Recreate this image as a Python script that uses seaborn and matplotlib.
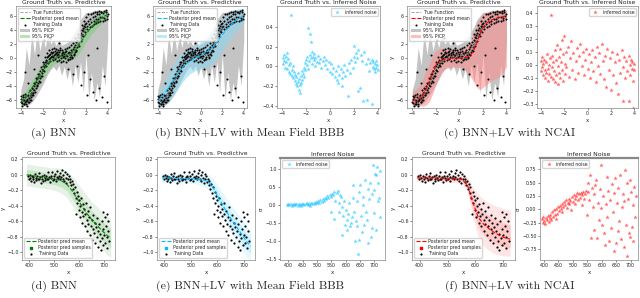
import matplotlib
matplotlib.use("Agg")
import matplotlib.pyplot as plt
import seaborn as sns
import numpy as np

sns.set_style("ticks")
plt.rcParams.update({
    "font.family": ["DejaVu Sans"],
    "xtick.labelsize": 3.4, "ytick.labelsize": 3.4,
    "xtick.major.size": 1.5, "ytick.major.size": 1.5,
    "xtick.major.width": 0.4, "ytick.major.width": 0.4,
    "xtick.major.pad": 1.0, "ytick.major.pad": 1.0,
    "axes.linewidth": 0.5, "axes.edgecolor": "#888888",
    "axes.titlesize": 4.4, "axes.titlepad": 1.5,
    "axes.labelsize": 4.0, "axes.labelpad": 1.0,
})

# ---------------- top row data (toy problem, x in [-4, 4]) ----------------
grid_x = [-4.0, -3.75, -3.5, -3.25, -3.0, -2.75, -2.5, -2.25, -2.0, -1.75, -1.5, -1.25, -1.0,
          -0.75, -0.5, -0.25, 0.0, 0.25, 0.5, 0.75, 1.0, 1.25, 1.5, 1.75, 2.0, 2.25, 2.5,
          2.75, 3.0, 3.25, 3.5, 3.75, 4.0]
true_y = [-6.0, -6.0, -5.8, -5.5, -5.0, -4.3, -3.4, -2.4, -1.5, -0.9, -0.5, -0.2, 0.0,
          0.1, 0.2, 0.3, 0.35, 0.4, 0.5, 0.7, 1.0, 1.8, 2.8, 3.7, 4.4, 4.9, 5.2,
          5.5, 5.7, 5.8, 5.9, 6.0, 6.0]
gray_hi = [-4.5, -3.0, 1.5, -1.0, 3.5, 0.5, 4.0, 1.0, 3.0, 1.5, 3.5, 2.0, 2.5,
           1.8, 2.8, 1.8, 2.0, 2.2, 2.5, 3.2, 3.8, 4.5, 5.5, 6.0, 6.5, 6.5, 6.6,
           6.8, 6.8, 6.8, 6.8, 6.8, 6.8]
gray_lo = [-6.8, -6.8, -6.8, -6.6, -6.3, -5.8, -5.2, -4.5, -3.8, -3.0, -2.2, -1.6, -1.2,
           -1.8, -1.0, -2.5, -1.2, -3.0, -1.5, -4.0, -1.0, -3.5, -0.5, -5.0, 0.5, -5.8, -2.0,
           -6.0, -3.5, -5.5, -1.0, -4.0, 2.5]

bnn_mean = [-6.3, -5.9, -5.4, -4.9, -4.3, -3.7, -3.1, -2.5, -1.9, -1.3, -0.8, -0.4, -0.1,
            0.1, 0.2, 0.3, 0.4, 0.5, 0.6, 0.8, 1.1, 1.6, 2.2, 2.8, 3.4, 3.9, 4.4,
            4.8, 5.2, 5.5, 5.8, 6.0, 6.2]
bnn_half = [0.7, 0.8, 0.9, 1.0, 1.1, 1.1, 1.2, 1.2, 1.2, 1.1, 1.0, 0.9, 0.8,
            0.8, 0.8, 0.8, 0.8, 0.9, 0.9, 1.0, 1.1, 1.2, 1.2, 1.2, 1.1, 1.1, 1.0,
            1.0, 0.9, 0.9, 0.8, 0.8, 0.7]
mf_mean = [-6.1, -5.8, -5.3, -4.8, -4.2, -3.6, -3.0, -2.4, -1.9, -1.4, -1.0, -0.7, -0.4,
           -0.2, 0.0, 0.2, 0.4, 0.6, 0.8, 1.1, 1.4, 1.8, 2.3, 2.8, 3.3, 3.8, 4.2,
           4.6, 5.0, 5.3, 5.6, 5.8, 6.0]
mf_half = [1.0, 1.2, 1.5, 1.8, 2.0, 2.2, 2.3, 2.3, 2.2, 2.1, 2.0, 1.9, 1.8,
           1.8, 1.8, 1.8, 1.9, 2.0, 2.1, 2.2, 2.3, 2.4, 2.4, 2.3, 2.2, 2.1, 2.0,
           1.9, 1.8, 1.6, 1.4, 1.2, 1.0]
ncai_mean = [-6.1, -6.0, -5.8, -5.5, -5.0, -4.2, -3.0, -1.8, -1.0, -0.5, -0.3, -0.2, -0.1,
             -0.1, 0.0, 0.0, 0.0, 0.0, 0.1, 0.2, 0.5, 1.2, 2.2, 3.4, 4.3, 4.9, 5.2,
             5.4, 5.6, 5.7, 5.8, 5.9, 6.0]
ncai_hi = [-4.8, -4.5, -4.2, -3.5, -2.5, -1.5, -0.5, 0.5, 1.0, 1.3, 1.4, 1.4, 1.3,
           1.3, 1.2, 1.2, 1.3, 1.4, 1.6, 2.0, 2.8, 3.8, 4.8, 5.8, 6.3, 6.5, 6.6,
           6.7, 6.7, 6.8, 6.8, 6.8, 6.8]
ncai_lo = [-6.8, -6.8, -6.8, -6.8, -6.8, -6.6, -6.0, -5.0, -3.8, -2.8, -2.0, -1.6, -1.4,
           -1.3, -1.3, -1.3, -1.3, -1.5, -1.8, -2.2, -2.8, -3.5, -4.2, -4.5, -4.2, -3.8, -3.5,
           -3.2, -3.0, -2.8, -2.5, -2.0, -1.2]

top_train = [
    (-4.0, -6.2), (-3.95, -5.8), (-3.9, -6.4), (-3.85, -5.6), (-3.8, -6.0), (-3.75, -6.6),
    (-3.7, -5.9), (-3.65, -6.3), (-3.6, -5.5), (-3.55, -6.1), (-3.5, -6.5), (-3.45, -5.8),
    (-3.4, -6.0), (-3.35, -5.4), (-3.3, -6.2), (-3.25, -5.7), (-3.2, -5.2), (-3.15, -5.9),
    (-3.1, -5.0), (-3.05, -5.5), (-3.0, -4.8), (-2.95, -5.2), (-2.9, -4.4), (-2.85, -4.9),
    (-2.8, -4.0), (-2.75, -4.6), (-2.7, -3.7), (-2.65, -4.2), (-2.6, -3.4), (-2.55, -3.9),
    (-2.5, -3.0), (-2.45, -3.6), (-2.4, -2.7), (-2.35, -3.2), (-2.3, -2.3), (-2.25, -2.9),
    (-2.2, -1.9), (-2.15, -2.5), (-2.1, -1.5), (-2.05, -2.1), (-2.0, -1.2), (-1.95, -1.7),
    (-1.9, -0.9), (-1.85, -1.3), (-1.8, -0.5), (-1.75, -1.0), (-1.7, -0.3), (-1.65, -0.7),
    (-1.6, 0.1), (-1.55, -0.4), (-1.5, 0.3), (-1.45, -0.2), (-1.4, 0.5), (-1.35, 0.0),
    (-1.3, 0.6), (-1.25, 0.2), (-1.2, 0.8), (-1.15, 0.3), (-1.1, 0.7), (-1.05, 0.1),
    (-1.0, 0.9), (-0.95, 0.4), (-0.9, 0.6), (-0.85, 1.0), (-0.8, 0.2), (-0.75, 0.7),
    (-0.7, 0.5), (-0.65, 0.9), (-0.6, 0.1), (-0.55, 0.6), (-0.5, 0.8), (-0.45, 0.3),
    (-0.4, 1.1), (-0.35, 0.5), (-0.3, 0.0), (-0.25, 0.7), (-0.2, 0.4), (-0.15, 0.9),
    (-0.1, 0.2), (-0.05, 0.6), (0.0, 0.3), (0.05, 0.8), (0.1, 0.0), (0.15, 0.5),
    (0.2, 1.0), (0.25, 0.3), (0.3, 0.7), (0.35, -0.1), (0.4, 0.6), (0.45, 0.9),
    (0.5, 0.2), (0.55, 0.7), (0.6, 1.1), (0.65, 0.4), (0.7, 0.9), (0.75, 0.1),
    (0.8, 1.3), (0.85, 0.6), (0.9, 1.6), (0.95, 0.9), (1.0, 1.9), (1.05, 1.2),
    (1.1, 2.3), (1.15, 1.6), (1.2, 2.6), (1.25, 2.0), (1.3, 3.0), (1.35, 2.4),
    (1.4, 3.3), (1.45, 2.8), (1.5, 3.6), (1.55, 3.1), (1.6, 4.0), (1.65, 3.4),
    (1.7, 4.3), (1.75, 3.8), (1.8, 4.6), (1.85, 4.1), (1.9, 4.9), (1.95, 4.4),
    (2.0, 5.0), (2.1, 4.6), (2.2, 5.3), (2.3, 4.8), (2.4, 5.6), (2.5, 5.1),
    (2.6, 5.8), (2.7, 5.3), (2.8, 6.0), (2.9, 5.5), (3.0, 6.2), (3.1, 5.6),
    (3.2, 6.3), (3.3, 5.8), (3.4, 6.5), (3.5, 5.9), (3.6, 6.4), (3.7, 5.7),
    (3.8, 6.6), (3.9, 6.0), (4.0, 6.3),
    (-3.98, -5.4), (-3.88, -6.8), (-3.78, -5.2), (-3.68, -6.6), (-3.58, -5.1), (-3.48, -6.8),
    (-3.38, -5.2), (-3.28, -6.3), (-3.18, -4.6), (-3.08, -5.9), (-2.98, -4.2), (-2.88, -5.3),
    (-2.78, -3.5), (-2.68, -4.8), (-2.58, -2.9), (-2.48, -4.0), (-2.38, -2.2), (-2.28, -3.4),
    (-2.18, -1.3), (-2.08, -2.6), (-1.98, -0.6), (-1.88, -1.8), (-1.78, 0.2), (-1.68, -1.2),
    (-1.58, 0.7), (-1.48, -0.7), (-1.38, 1.1), (-1.28, -0.4), (-1.18, 1.3), (-1.08, -0.3),
    (-0.98, 1.4), (-0.88, -0.2), (-0.78, 1.3), (-0.68, -0.4), (-0.58, 1.2), (-0.48, -0.3),
    (-0.38, 1.4), (-0.28, -0.5), (-0.18, 1.2), (-0.08, -0.4), (0.02, 1.3), (0.12, -0.5),
    (0.22, 1.5), (0.32, -0.3), (0.42, 1.6), (0.52, -0.2), (0.62, 1.8), (0.72, 0.0),
    (0.82, 2.2), (0.92, 0.4), (1.02, 2.8), (1.12, 1.0), (1.22, 3.4), (1.32, 1.7),
    (1.42, 4.0), (1.52, 2.4), (1.62, 4.7), (1.72, 3.1), (1.82, 5.3), (1.92, 3.7),
    (2.02, 5.9), (2.12, 4.1), (2.22, 6.2), (2.32, 4.4), (2.42, 6.3), (2.52, 4.6),
    (2.62, 6.4), (2.72, 4.8), (2.82, 6.5), (2.92, 5.0), (3.02, 6.6), (3.12, 5.1),
    (3.22, 6.7), (3.32, 5.2), (3.42, 6.6), (3.52, 5.3), (3.62, 6.7), (3.72, 5.4),
    (3.82, 6.8), (3.92, 5.5),
    (-3.3, -3.5), (-2.8, -1.5), (-2.4, 0.5), (-1.9, 2.5), (-1.3, 2.8), (-0.5, 2.2),
    (0.3, -1.5), (0.8, -2.2), (1.2, -1.2), (1.5, -3.8), (1.8, -2.0), (2.1, -5.2),
    (2.4, -3.0), (2.6, -4.8), (2.9, -6.0), (3.2, -4.2), (3.5, -5.5), (3.7, -2.5),
    (3.9, -6.3), (3.0, 1.5), (2.2, 0.5), (-3.6, -2.0),
]

noise_mf_top = [
    (-3.95, 0.08), (-3.9, 0.02), (-3.85, 0.12), (-3.8, 0.05), (-3.75, -0.02), (-3.7, 0.10),
    (-3.65, 0.04), (-3.6, 0.14), (-3.55, -0.03), (-3.5, 0.07), (-3.45, 0.01), (-3.4, -0.06),
    (-3.35, 0.03), (-3.3, -0.08), (-3.25, 0.52), (-3.2, -0.04), (-3.15, -0.10), (-3.1, 0.00),
    (-3.05, -0.12), (-3.0, -0.06), (-2.95, -0.15), (-2.9, -0.09), (-2.85, -0.18), (-2.8, -0.11),
    (-2.75, -0.20), (-2.7, -0.07), (-2.65, -0.16), (-2.6, -0.24), (-2.55, -0.13), (-2.5, -0.19),
    (-2.45, -0.10), (-2.4, -0.17), (-2.35, -0.05), (-2.3, -0.14), (-2.25, -0.08), (-2.2, -0.02),
    (-2.15, -0.11), (-2.1, 0.03), (-2.05, -0.04), (-2.0, 0.06), (-1.95, 0.01), (-1.9, 0.09),
    (-1.85, -0.03), (-1.8, 0.39), (-1.75, 0.05), (-1.7, 0.12), (-1.65, 0.33), (-1.6, 0.25),
    (-1.55, 0.08), (-1.5, 0.15), (-1.45, 0.02), (-1.4, 0.10), (-1.35, 0.06), (-1.3, 0.13),
    (-1.25, 0.00), (-1.2, 0.08), (-1.1, 0.04), (-1.0, 0.11), (-0.9, 0.03), (-0.8, 0.07),
    (-0.7, -0.02), (-0.6, 0.05), (-0.5, 0.09), (-0.4, 0.01), (-0.3, 0.06), (-0.2, -0.03),
    (-0.1, 0.04), (0.0, -0.06), (0.1, 0.02), (0.2, -0.08), (0.3, -0.02), (0.4, -0.11),
    (0.5, -0.05), (0.6, -0.14), (0.7, 0.00), (0.8, -0.09), (0.9, -0.03), (1.0, -0.12),
    (1.1, -0.06), (1.2, 0.01), (1.3, -0.10), (1.4, -0.04), (1.5, -0.30), (1.6, 0.03),
    (1.7, -0.07), (1.8, 0.06), (1.9, -0.02), (2.0, 0.10), (2.05, 0.21), (2.1, 0.04),
    (2.2, 0.14), (2.3, 0.08), (2.4, 0.17), (2.5, -0.22), (2.6, 0.12), (2.7, 0.05),
    (2.8, -0.35), (2.9, 0.15), (3.0, 0.02), (3.1, -0.34), (3.2, 0.07), (3.3, -0.05),
    (3.4, 0.03), (3.5, -0.38), (3.55, 0.06), (3.6, -0.01), (3.65, 0.04), (3.7, -0.03),
    (3.75, 0.02), (3.8, -0.06), (3.85, 0.05), (3.9, -0.02), (3.95, 0.01), (4.0, -0.04),
    (1.05, -0.20), (0.65, -0.17), (2.35, -0.25), (-2.5, -0.27),
]

noise_ncai_top = [
    (-4.0, 0.03), (-3.95, -0.05), (-3.9, 0.06), (-3.85, -0.02), (-3.8, 0.01), (-3.75, -0.08),
    (-3.7, 0.04), (-3.65, -0.04), (-3.6, -0.10), (-3.55, 0.02), (-3.5, -0.06), (-3.45, 0.08),
    (-3.4, -0.03), (-3.35, -0.12), (-3.3, 0.00), (-3.25, -0.07), (-3.2, 0.05), (-3.15, -0.09),
    (-3.1, 0.38), (-3.05, -0.02), (-3.0, 0.07), (-2.95, -0.11), (-2.9, 0.02), (-2.85, -0.05),
    (-2.8, 0.11), (-2.75, -0.13), (-2.7, 0.04), (-2.65, -0.08), (-2.6, 0.15), (-2.55, -0.01),
    (-2.5, -0.15), (-2.45, 0.06), (-2.4, -0.06), (-2.35, 0.12), (-2.3, -0.10), (-2.25, 0.02),
    (-2.2, 0.19), (-2.15, -0.04), (-2.1, 0.08), (-2.05, -0.12), (-2.0, 0.22), (-1.95, 0.01),
    (-1.9, -0.07), (-1.85, 0.10), (-1.8, -0.02), (-1.7, 0.14), (-1.6, -0.09), (-1.5, 0.05),
    (-1.4, 0.18), (-1.3, -0.04), (-1.2, 0.09), (-1.1, -0.11), (-1.0, 0.03), (-0.9, 0.13),
    (-0.8, -0.06), (-0.7, 0.07), (-0.6, 0.16), (-0.5, -0.01), (-0.4, 0.10), (-0.3, -0.08),
    (-0.2, 0.04), (-0.1, 0.12), (0.0, -0.03), (0.1, 0.08), (0.2, -0.10), (0.3, 0.02),
    (0.4, 0.11), (0.5, -0.05), (0.6, 0.06), (0.7, -0.13), (0.8, 0.14), (0.9, -0.01),
    (1.0, 0.09), (1.1, -0.07), (1.2, 0.16), (1.3, 0.03), (1.4, -0.11), (1.5, 0.07),
    (1.6, -0.17), (1.7, 0.12), (1.8, -0.04), (1.9, 0.05), (2.0, -0.19), (2.1, 0.10),
    (2.2, -0.08), (2.3, 0.02), (2.4, -0.14), (2.5, 0.08), (2.6, -0.22), (2.7, 0.04),
    (2.8, -0.06), (2.9, 0.11), (3.0, -0.28), (3.05, -0.02), (3.1, 0.06), (3.2, -0.10),
    (3.3, 0.03), (3.4, -0.05), (3.5, -0.28), (3.55, 0.07), (3.6, 0.00), (3.65, -0.08),
    (3.7, 0.04), (3.75, -0.03), (3.8, 0.02), (3.85, -0.12), (3.9, -0.33), (3.95, 0.01),
    (4.0, -0.04),
]

# ---------------- bottom row data (real data set, x in ~[390, 720]) ----------------
bot_grid = [390, 410, 430, 450, 470, 490, 510, 530, 550, 570, 590, 610, 630, 650, 670, 690, 710, 725]
bnn_b_mean = [0.0, -0.01, -0.02, -0.03, -0.04, -0.05, -0.06, -0.08, -0.12, -0.20, -0.30, -0.40,
              -0.50, -0.58, -0.65, -0.72, -0.78, -0.82]
bnn_b_half = [0.14, 0.14, 0.14, 0.14, 0.14, 0.14, 0.15, 0.16, 0.17, 0.19, 0.21, 0.22,
              0.23, 0.23, 0.24, 0.24, 0.25, 0.25]
mf_b_mean = [-0.04, -0.04, -0.04, -0.05, -0.05, -0.05, -0.05, -0.06, -0.07, -0.10, -0.20, -0.33,
             -0.45, -0.56, -0.66, -0.76, -0.86, -0.92]
mf_b_half = [0.06, 0.06, 0.06, 0.06, 0.06, 0.06, 0.06, 0.07, 0.08, 0.10, 0.13, 0.15,
             0.17, 0.18, 0.19, 0.20, 0.20, 0.20]
ncai_b_mean = [-0.04, -0.04, -0.04, -0.04, -0.04, -0.05, -0.05, -0.05, -0.06, -0.12, -0.35, -0.55,
               -0.64, -0.70, -0.75, -0.79, -0.82, -0.83]
ncai_b_hi = [0.01, 0.01, 0.01, 0.01, 0.01, 0.00, 0.00, 0.00, 0.00, -0.02, -0.15, -0.25,
             -0.32, -0.36, -0.40, -0.42, -0.45, -0.46]
ncai_b_lo = [-0.09, -0.09, -0.09, -0.09, -0.09, -0.10, -0.10, -0.10, -0.11, -0.20, -0.55, -0.80,
             -0.92, -0.98, -1.02, -1.04, -1.05, -1.05]

bot_train = [
    (395, -0.02), (398, -0.06), (402, 0.00), (405, -0.04), (408, -0.08), (411, -0.01),
    (414, -0.05), (417, -0.03), (420, -0.09), (423, 0.01), (426, -0.04), (429, -0.07),
    (432, -0.02), (435, -0.05), (438, 0.02), (441, -0.06), (444, -0.03), (447, -0.10),
    (450, -0.01), (453, -0.05), (456, -0.08), (459, 0.00), (462, -0.04), (465, -0.07),
    (468, -0.02), (471, -0.05), (474, 0.03), (477, -0.06), (480, -0.03), (483, -0.09),
    (486, -0.01), (489, -0.04), (492, 0.04), (495, -0.07), (498, -0.02), (501, -0.05),
    (504, 0.01), (507, -0.08), (510, -0.03), (513, 0.05), (516, -0.04), (519, -0.01),
    (522, -0.06), (525, 0.02), (528, -0.03), (531, 0.06), (534, -0.05), (537, 0.00),
    (540, -0.08), (543, 0.03), (546, -0.04), (549, -0.10), (552, 0.01), (555, -0.06),
    (558, -0.02), (561, -0.09), (564, -0.05), (567, -0.13), (570, -0.08), (573, -0.18),
    (576, -0.12), (579, -0.24), (582, -0.16), (585, -0.30), (587, -0.50), (590, -0.22),
    (592, -0.36), (595, -0.28), (597, -0.45), (600, -0.33), (602, -0.55), (604, -0.40),
    (607, -0.30), (609, -0.48), (611, -0.62), (614, -0.38), (616, -0.53), (619, -0.44),
    (621, -0.66), (624, -0.50), (626, -0.36), (629, -0.58), (631, -0.72), (634, -0.47),
    (636, -0.63), (639, -0.55), (641, -0.78), (644, -0.42), (646, -0.66), (649, -0.58),
    (651, -0.84), (654, -0.70), (656, -0.52), (659, -0.75), (661, -0.62), (664, -0.88),
    (666, -0.68), (669, -0.56), (671, -0.80), (674, -0.72), (676, -0.93), (679, -0.64),
    (681, -0.85), (684, -0.76), (686, -0.97), (689, -0.60), (691, -0.82), (694, -0.70),
    (696, -0.90), (699, -0.78), (701, -0.55), (704, -0.88), (706, -0.66), (709, -0.80),
    (711, -0.95), (714, -0.72), (716, -0.60), (719, -0.85), (695, -0.48), (710, -0.50),
]

noise_mf_bot = [
    (395, 0.00), (400, 0.02), (404, -0.01), (408, 0.01), (412, -0.02), (416, 0.00),
    (420, 0.03), (424, -0.01), (428, 0.01), (432, -0.03), (436, 0.02), (440, 0.00),
    (444, -0.02), (448, 0.03), (452, 0.01), (456, -0.01), (460, 0.02), (464, 0.04),
    (468, 0.00), (472, 0.03), (476, -0.02), (480, 0.05), (484, 0.02), (488, 0.06),
    (492, 0.03), (496, 0.08), (500, 0.05), (504, 0.10), (508, 0.06), (512, 0.13),
    (516, 0.09), (520, 0.16), (524, 0.12), (528, 0.20), (532, 0.15), (536, 0.24),
    (540, 0.19), (544, 0.28), (548, 0.22), (552, 0.31), (556, 0.26), (560, 0.35),
    (564, 0.12), (568, 0.32), (572, 0.39), (576, 0.05), (580, 0.28), (584, 0.23),
    (586, -0.83), (588, -0.05), (590, -0.30), (594, 0.10), (597, -0.55), (600, -0.15),
    (603, -0.42), (606, -0.70), (609, -0.25), (612, 0.05), (615, -0.60), (618, -0.51),
    (621, -0.35), (624, 0.20), (627, 0.55), (630, -0.20), (633, -1.00), (636, -0.45),
    (639, 0.10), (641, -0.60), (643, -1.37), (645, -0.97), (648, 0.35), (650, 0.54),
    (653, -0.30), (656, -0.75), (659, 0.00), (662, 0.23), (665, -0.55), (668, 0.70),
    (670, -0.19), (673, -0.42), (676, 0.45), (679, -1.05), (682, 0.15), (685, 0.60),
    (687, -0.90), (690, 0.30), (693, -0.65), (696, 1.10), (698, -0.23), (700, 0.40),
    (702, 0.85), (705, 0.83), (707, -0.70), (708, 1.06), (711, 0.10), (714, 0.60),
    (716, 0.19), (718, -0.35), (720, 0.95), (549, -0.19), (560, -0.40), (575, -0.20),
]

noise_ncai_bot = [
    (392, -0.18), (395, -0.25), (398, -0.14), (401, -0.22), (404, -0.27), (407, -0.16),
    (410, -0.20), (413, -0.12), (416, -0.24), (419, -0.17), (422, -0.10), (425, -0.21),
    (428, -0.06), (431, -0.15), (434, -0.02), (437, -0.11), (440, -0.19), (443, 0.00),
    (446, -0.08), (449, 0.04), (452, -0.03), (455, 0.07), (458, 0.01), (461, 0.10),
    (464, -0.05), (467, 0.05), (470, 0.13), (473, 0.08), (476, 0.18), (479, 0.02),
    (482, 0.12), (485, 0.20), (488, 0.09), (491, 0.16), (494, -0.02), (497, 0.23),
    (500, 0.14), (503, 0.27), (506, 0.19), (509, 0.10), (512, 0.25), (515, 0.30),
    (518, 0.17), (521, 0.28), (524, 0.22), (527, 0.31), (530, 0.08), (533, 0.26),
    (536, 0.32), (539, 0.20), (542, 0.29), (545, 0.35), (548, -0.10), (551, 0.49),
    (554, 0.33), (557, 0.18), (560, 0.64), (563, -0.54), (566, 0.40), (569, 0.05),
    (572, 0.28), (575, -0.39), (578, 0.45), (581, 0.55), (584, -0.54), (587, 0.12),
    (590, -0.20), (593, 0.38), (596, 0.02), (599, 0.83), (602, -0.30), (605, 0.25),
    (608, -0.45), (611, -0.67), (614, 0.10), (617, 0.61), (620, -0.15), (623, 0.35),
    (626, -0.60), (629, 0.18), (632, -0.35), (635, 0.48), (638, -0.05), (641, -0.78),
    (644, 0.30), (646, 0.58), (649, -0.64), (652, 0.12), (655, -0.40), (658, 0.40),
    (661, -0.22), (664, 0.65), (667, -0.55), (670, 0.05), (673, 0.28), (676, -0.70),
    (679, 0.15), (681, 0.74), (684, -0.30), (687, 0.49), (688, -0.87), (691, 0.20),
    (694, -0.45), (697, 0.55), (698, -0.51), (701, 0.32), (704, -0.33), (707, 0.08),
    (710, -0.60), (713, 0.42), (716, -0.15), (719, 0.25),
]

top_ticks = [-4, -2, 0, 2, 4]
bot_ticks = [400, 500, 600, 700]
bot_noise_ticks = [400, 450, 500, 550, 600, 650, 700]
captions = ["(a) BNN", "(b) BNN+LV with Mean Field BBB", "(c) BNN+LV with NCAI",
            "(d) BNN", "(e) BNN+LV with Mean Field BBB", "(f) BNN+LV with NCAI"]

LEG = dict(fontsize=3.3, handlelength=2.2, borderpad=0.3, labelspacing=0.25,
           handletextpad=0.5, framealpha=0.8, edgecolor="#cccccc", fancybox=True)

W, H = 640, 298
fig = plt.figure(figsize=(6.4, 2.98), dpi=100)


def add_ax(x0, y0, x1, y1):
    # pixel box (left, top, right, bottom) -> figure fraction
    return fig.add_axes([x0 / W, 1 - y1 / H, (x1 - x0) / W, (y1 - y0) / H])


def finish(ax, title, ylabel):
    ax.set_title(title)
    ax.set_xlabel("x")
    ax.set_ylabel(ylabel)
    for sp in ax.spines.values():
        sp.set_visible(True)


def top_main(ax, mean, lo, hi, col, band):
    g = ax.fill_between(grid_x, gray_lo, gray_hi, color="#c4c4c4", lw=0, label="95% PICP")
    b = ax.fill_between(grid_x, lo, hi, color=band, alpha=0.55, lw=0, label="95% PICP")
    sns.lineplot(x=grid_x, y=true_y, ax=ax, color="#9a9a9a", linestyle="--", lw=0.6)
    sns.lineplot(x=grid_x, y=mean, ax=ax, color=col, linestyle="--", lw=0.8)
    tx, ty = zip(*top_train)
    sns.scatterplot(x=tx, y=ty, ax=ax, color="black", s=2.2, linewidth=0)
    l1, l2 = ax.lines[0], ax.lines[1]
    sc = ax.collections[-1]
    ax.legend([l1, l2, sc, g, b],
              ["True Function", "Posterior pred mean", "Training Data", "95% PICP", "95% PICP"],
              loc="upper left", **LEG)
    ax.set_xlim(-4.45, 4.3)
    ax.set_ylim(-7.1, 7.4)
    ax.set_xticks(top_ticks)
    ax.set_yticks([-6, -4, -2, 0, 2, 4, 6])
    finish(ax, "Ground Truth vs. Predictive", "y")


def noise_plot(ax, pts, col, title, loc, xlim, ylim, xticks, yticks):
    nx, ny = zip(*pts)
    sns.scatterplot(x=nx, y=ny, ax=ax, color=col, marker="*", s=11, alpha=0.6, linewidth=0,
                    label="inferred noise")
    ax.legend(loc=loc, **LEG)
    ax.set_xlim(*xlim)
    ax.set_ylim(*ylim)
    ax.set_xticks(xticks)
    ax.set_yticks(yticks)
    finish(ax, title, "σ")


def bot_main(ax, mean, lo, hi, col):
    ax.fill_between(bot_grid, lo, hi, color=col, alpha=0.10, lw=0)
    mid_lo = [(m + l) / 2 for m, l in zip(mean, lo)]
    mid_hi = [(m + h) / 2 for m, h in zip(mean, hi)]
    ax.fill_between(bot_grid, mid_lo, mid_hi, color=col, alpha=0.12, lw=0)
    sns.lineplot(x=bot_grid, y=mean, ax=ax, color=col, linestyle="--", lw=0.8)
    samp = ax.scatter([], [], marker="s", s=3, color=col)
    bx, by = zip(*bot_train)
    sns.scatterplot(x=bx, y=by, ax=ax, color="black", s=2.5, linewidth=0)
    ax.legend([ax.lines[0], samp, ax.collections[-1]],
              ["Posterior pred mean", "Posterior pred samples", "Training Data"],
              loc="lower left", **LEG)
    ax.set_xlim(372, 742)
    ax.set_ylim(-1.1, 0.23)
    ax.set_xticks(bot_ticks)
    ax.set_yticks([0.2, 0.0, -0.2, -0.4, -0.6, -0.8, -1.0])
    finish(ax, "Ground Truth vs. Predictive", "y")


# ---- top row ----
ax_a = add_ax(16, 6, 111, 108)
top_main(ax_a, bnn_mean, [m - h for m, h in zip(bnn_mean, bnn_half)],
         [m + h for m, h in zip(bnn_mean, bnn_half)], "green", "#7ccd7c")

ax_b = add_ax(153, 6, 247, 108)
top_main(ax_b, mf_mean, [m - h for m, h in zip(mf_mean, mf_half)],
         [m + h for m, h in zip(mf_mean, mf_half)], "deepskyblue", "#87d8f5")

ax_bn = add_ax(277, 6, 380, 108)
noise_plot(ax_bn, noise_mf_top, "deepskyblue", "Ground Truth vs. Inferred Noise", "upper right",
           (-4.42, 4.2), (-0.42, 0.61), top_ticks, [-0.4, -0.2, 0.0, 0.2, 0.4])

ax_c = add_ax(407, 6, 510, 108)
top_main(ax_c, ncai_mean, ncai_lo, ncai_hi, "red", "#ff8a8a")

ax_cn = add_ax(537, 6, 638, 108)
noise_plot(ax_cn, noise_ncai_top, "red", "Ground Truth vs. Inferred Noise", "upper right",
           (-4.3, 4.3), (-0.33, 0.45), top_ticks,
           [-0.3, -0.2, -0.1, 0.0, 0.1, 0.2, 0.3, 0.4])

# ---- bottom row ----
ax_d = add_ax(22, 157, 115, 260)
bot_main(ax_d, bnn_b_mean, [m - h for m, h in zip(bnn_b_mean, bnn_b_half)],
         [m + h for m, h in zip(bnn_b_mean, bnn_b_half)], "green")

ax_e = add_ax(157, 157, 255, 260)
bot_main(ax_e, mf_b_mean, [m - h for m, h in zip(mf_b_mean, mf_b_half)],
         [m + h for m, h in zip(mf_b_mean, mf_b_half)], "deepskyblue")

ax_en = add_ax(280, 158, 385, 260)
noise_plot(ax_en, noise_mf_bot, "deepskyblue", "Inferred Noise", "upper left",
           (371, 737), (-1.53, 1.3), bot_noise_ticks, [-1.5, -1.0, -0.5, 0.0, 0.5, 1.0])
ax_en.spines["top"].set_linewidth(1.6)

ax_f = add_ax(412, 157, 515, 260)
bot_main(ax_f, ncai_b_mean, ncai_b_lo, ncai_b_hi, "red")

ax_fn = add_ax(540, 158, 638, 260)
noise_plot(ax_fn, noise_ncai_bot, "red", "Inferred Noise", "upper left",
           (386, 726), (-0.95, 0.96), bot_noise_ticks,
           [-0.75, -0.50, -0.25, 0.00, 0.25, 0.50, 0.75])
ax_fn.spines["top"].set_linewidth(1.6)

# ---- sub-figure captions ----
cap_x = [54, 250, 510]
for i, cap in enumerate(captions):
    y = 133 if i < 3 else 286
    fig.text(cap_x[i % 3] / W, 1 - y / H, cap, ha="center", va="center",
             fontsize=8.5, family=["cmr10", "DejaVu Serif"])

fig.savefig("out.png", dpi=100)
